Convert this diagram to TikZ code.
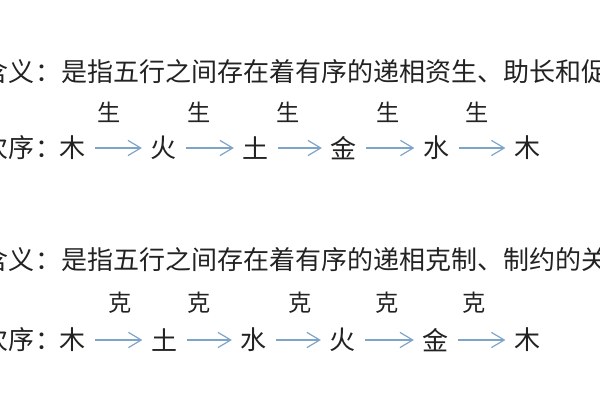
\documentclass[tikz,border=0pt]{standalone}
\usepackage{fontspec}
\setmainfont{Noto Sans CJK SC}
\usetikzlibrary{arrows.meta}
\definecolor{arrowblue}{RGB}{126,164,200}
\definecolor{inkgray}{HTML}{222222}

\begin{document}
\begin{tikzpicture}[x=0.025cm, y=-0.025cm,
    every node/.style={inner sep=0pt, text=inkgray},
    textline/.style={anchor=west, font=\fontsize{18.5pt}{22pt}\selectfont},
    element/.style={inner xsep=0.22cm, font=\fontsize{18.5pt}{22pt}\selectfont},
    relation/.style={font=\fontsize{16.5pt}{19pt}\selectfont},
    seqarrow/.style={-{Straight Barb[length=3.2mm, width=3.8mm]}, draw=arrowblue, line width=0.85pt}]
    \path[use as bounding box, clip] (0,0) rectangle (600,400);

    % generating order
    \node (meaning1) [textline] at (-17.3,72) {含义：是指五行之间存在着有序的递相资生、助长和促};
    \node (order1) [textline] at (-17.3,148) {次序：};

    \node (g1) [element] at (72.5,148) {木};
    \node (g2) [element] at (164,148) {火};
    \node (g3) [element] at (256,148) {土};
    \node (g4) [element] at (344,148) {金};
    \node (g5) [element] at (436.5,148) {水};
    \node (g6) [element] at (527.5,148) {木};

    \node (s1) [relation] at (109,112) {生};
    \node (s2) [relation] at (199,112) {生};
    \node (s3) [relation] at (288,112) {生};
    \node (s4) [relation] at (388,112) {生};
    \node (s5) [relation] at (477,112) {生};

    \draw[seqarrow] (g1) -- (g2);
    \draw[seqarrow] (g2) -- (g3);
    \draw[seqarrow] (g3) -- (g4);
    \draw[seqarrow] (g4) -- (g5);
    \draw[seqarrow] (g5) -- (g6);

    % restraining order
    \node (meaning2) [textline] at (-17.3,260) {含义：是指五行之间存在着有序的递相克制、制约的关};
    \node (order2) [textline] at (-17.3,340) {次序：};

    \node (k1) [element] at (72.5,340) {木};
    \node (k2) [element] at (164.5,340) {土};
    \node (k3) [element] at (254,340) {水};
    \node (k4) [element] at (343,340) {火};
    \node (k5) [element] at (436,340) {金};
    \node (k6) [element] at (527.5,340) {木};

    \node (r1) [relation] at (120,303) {克};
    \node (r2) [relation] at (199,303) {克};
    \node (r3) [relation] at (300,303) {克};
    \node (r4) [relation] at (387,303) {克};
    \node (r5) [relation] at (474,303) {克};

    \draw[seqarrow] (k1) -- (k2);
    \draw[seqarrow] (k2) -- (k3);
    \draw[seqarrow] (k3) -- (k4);
    \draw[seqarrow] (k4) -- (k5);
    \draw[seqarrow] (k5) -- (k6);
\end{tikzpicture}
\end{document}
